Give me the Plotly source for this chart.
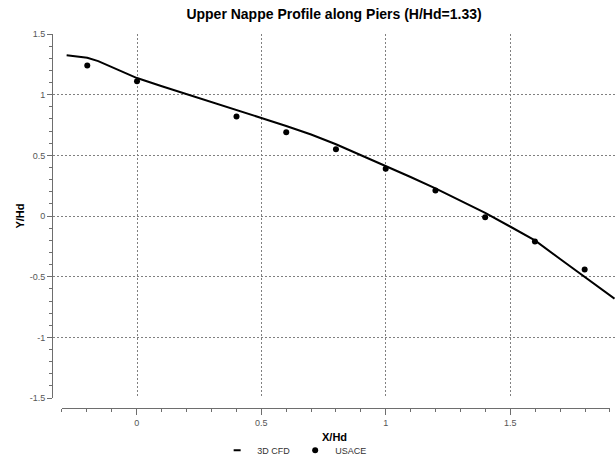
import plotly.graph_objects as go

# 3D CFD water-surface profile along the piers
cfd_x = [-0.283, -0.2, -0.156, -0.1, 0.0, 0.1, 0.2, 0.3, 0.4, 0.5, 0.6, 0.7,
         0.8, 0.9, 1.0, 1.1, 1.2, 1.3, 1.4, 1.5, 1.6, 1.7, 1.8, 1.92]
cfd_y = [1.325, 1.304, 1.277, 1.226, 1.137, 1.07, 1.003, 0.937, 0.873, 0.808,
         0.742, 0.672, 0.592, 0.503, 0.41, 0.322, 0.228, 0.13, 0.026, -0.086,
         -0.2, -0.352, -0.5, -0.68]

# USACE design-chart points
usace_x = [-0.2, 0.0, 0.4, 0.6, 0.8, 1.0, 1.2, 1.4, 1.6, 1.8]
usace_y = [1.24, 1.11, 0.82, 0.69, 0.55, 0.39, 0.21, -0.01, -0.21, -0.44]

x_ticks = [0, 0.5, 1, 1.5]
y_ticks = [-1.5, -1, -0.5, 0, 0.5, 1, 1.5]

GRID = "#808080"
AXIS = "#6e6e6e"
TICK_FONT = dict(family="Liberation Sans Narrow, Arial Narrow, sans-serif", size=9, color="#555555")

fig = go.Figure()

fig.add_trace(go.Scatter(
    x=cfd_x, y=cfd_y, mode="lines", name="3D CFD", showlegend=False,
    line=dict(color="black", width=2),
))
# compact dash used as the legend key for the CFD line
fig.add_trace(go.Scatter(
    x=[None], y=[None], mode="markers", name="3D CFD",
    marker=dict(symbol="line-ew-open", size=5, color="black",
                line=dict(color="black", width=2)),
))
fig.add_trace(go.Scatter(
    x=usace_x, y=usace_y, mode="markers", name="USACE",
    marker=dict(symbol="circle", size=6, color="black"),
))
# carrier trace for the detached bottom axis
fig.add_trace(go.Scatter(
    x=[None], y=[None], xaxis="x2", yaxis="y2", showlegend=False, hoverinfo="skip",
))

fig.update_layout(
    width=615, height=465,
    margin=dict(l=53, r=0, t=34, b=52),
    paper_bgcolor="white", plot_bgcolor="rgba(0,0,0,0)",
    font=dict(family="Liberation Sans, Arial, sans-serif", color="black"),
    title=dict(
        text="<b>Upper Nappe Profile along Piers (H/Hd=1.33)</b>",
        x=0.5, xref="paper", xanchor="center",
        y=1 - 14 / 465, yref="container", yanchor="middle",
        font=dict(family="Liberation Sans, Arial, sans-serif", size=14, color="black"),
    ),
    xaxis=dict(
        domain=[0, 1], range=[-0.3378, 1.922], anchor="y",
        tickvals=x_ticks, showticklabels=False, ticks="",
        showgrid=True, gridcolor=GRID, griddash="2px,2px", gridwidth=1,
        showline=False, zeroline=False,
    ),
    xaxis2=dict(
        domain=[0.016, 0.991], range=[-0.3, 1.9], anchor="free", position=0,
        tickvals=x_ticks, ticktext=["0", "0.5", "1", "1.5"],
        ticks="outside", ticklen=6, tickcolor=AXIS, tickwidth=1,
        minor=dict(dtick=0.1, tick0=0, ticks="outside", ticklen=3,
                   tickcolor=AXIS, showgrid=False),
        showline=True, linecolor=AXIS, linewidth=1,
        showgrid=False, zeroline=False, tickfont=TICK_FONT,
    ),
    yaxis=dict(
        domain=[0.0264, 1], range=[-1.5, 1.5],
        tickvals=y_ticks, ticktext=["-1.5", "-1", "-0.5", "0", "0.5", "1", "1.5"],
        ticks="outside", ticklen=5, tickcolor=AXIS, tickwidth=1,
        minor=dict(dtick=0.1, tick0=0, ticks="outside", ticklen=3,
                   tickcolor=AXIS, showgrid=False),
        showline=True, linecolor=AXIS, linewidth=1,
        showgrid=True, gridcolor=GRID, griddash="2px,2px", gridwidth=1,
        zeroline=False, tickfont=TICK_FONT,
    ),
    yaxis2=dict(
        overlaying="y", range=[-1.5, 1.5], visible=False,
        showgrid=False, zeroline=False,
    ),
    showlegend=True,
    legend=dict(
        orientation="h", x=0.43, xanchor="center", y=-0.113, yanchor="middle",
        font=dict(family="Liberation Sans Narrow, Arial Narrow, sans-serif", size=9, color="#333333"),
        itemwidth=30, bgcolor="rgba(0,0,0,0)",
    ),
    annotations=[
        dict(text="<b>X/Hd</b>", xref="paper", yref="paper", x=0.5, y=-0.0765,
             xanchor="center", yanchor="middle", showarrow=False,
             font=dict(family="Liberation Sans, Arial, sans-serif", size=11, color="black")),
        dict(text="<b>Y/Hd</b>", xref="paper", yref="paper", x=-0.0587, y=0.512,
             xanchor="center", yanchor="middle", showarrow=False, textangle=-90,
             font=dict(family="Liberation Sans, Arial, sans-serif", size=11, color="black")),
    ],
)

fig.write_html("out.html")
